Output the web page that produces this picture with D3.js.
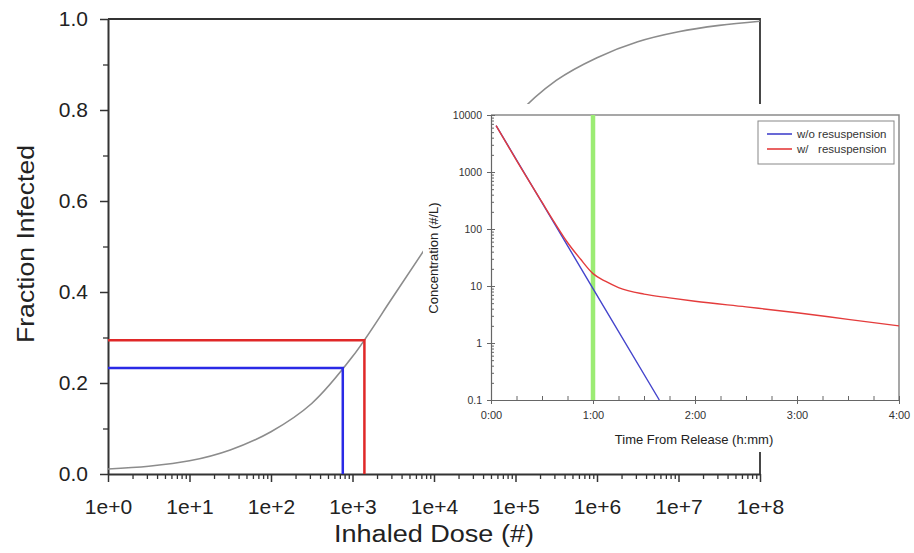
<!DOCTYPE html>
<html>
<head>
<meta charset="utf-8">
<script src="https://cdn.jsdelivr.net/npm/d3@7"></script>
<style>
  body { margin: 0; background: #fff; }
  svg { display: block; font-family: Arial, "Liberation Sans", sans-serif; }
</style>
</head>
<body>
<svg width="914" height="553"></svg>
<script>
// dose-response curve (main chart)
var doses = [1, 3.16, 10, 31.6, 100, 316, 1e3, 3.16e3, 1e4, 3.16e4, 1e5, 3.16e5, 1e6, 3.16e6, 1e7, 3.16e7, 1e8];
var fractions = [0.011, 0.017, 0.029, 0.053, 0.093, 0.155, 0.258, 0.39, 0.525, 0.66, 0.785, 0.865, 0.915, 0.95, 0.972, 0.986, 0.995];

// dose read-offs
var markDoses = [760, 1400];
var markFractions = [0.233, 0.294];
var markColors = ['#2a2ae6', '#e02828'];

var doseTicks = [1, 10, 100, 1e3, 1e4, 1e5, 1e6, 1e7, 1e8];
var doseLabels = ['1e+0', '1e+1', '1e+2', '1e+3', '1e+4', '1e+5', '1e+6', '1e+7', '1e+8'];
var fracTicks = [0, 0.2, 0.4, 0.6, 0.8, 1.0];

// inset: concentration vs time (minutes)
var noResTime = [3, 30, 60, 99];
var noResConc = [6500, 290, 9.0, 0.1];
var resTime = [3, 15, 30, 37.5, 45, 52.5, 60, 67.5, 75, 90, 105, 120, 150, 180, 210, 240];
var resConc = [6500, 1600, 295, 128, 58, 30, 16.5, 12, 9.4, 7.2, 6.2, 5.4, 4.3, 3.4, 2.6, 2.0];
var markTime = 60;
var timeTicks = [0, 60, 120, 180, 240];
var concTicks = [0.1, 1, 10, 100, 1000, 10000];
var concLabels = ['0.1', '1', '10', '100', '1000', '10000'];
var legendNames = ['w/o resuspension', 'w/   resuspension'];
var legendColors = ['#4444cc', '#e43c3c'];

var svg = d3.select('svg');

var xScale = d3.scaleLog().domain([1, 1e8]).range([108, 760]);
var yScale = d3.scaleLinear().domain([0, 1]).range([474, 19]);

// minor ticks
var doseMinor = [];
doseTicks.slice(0, -1).forEach(function(d) {
    for (var k = 2; k < 10; k++) doseMinor.push(d * k);
});
var fracMinor = [0.1, 0.3, 0.5, 0.7, 0.9];

svg.append('g')
    .attr('transform', 'translate(0,474)')
    .call(d3.axisBottom(xScale).tickValues(doseMinor).tickSize(5).tickFormat(''))
    .call(function(g) { g.select('.domain').remove(); g.selectAll('line').attr('stroke', '#333').attr('stroke-width', 1.3); });

var xAxis = svg.append('g')
    .attr('transform', 'translate(0,474)')
    .call(d3.axisBottom(xScale).tickValues(doseTicks).tickSize(8).tickSizeOuter(0).tickPadding(17)
        .tickFormat(function(d, i) { return doseLabels[i]; }));
xAxis.select('.domain').attr('stroke', '#333').attr('stroke-width', 2);
xAxis.selectAll('line').attr('stroke', '#333').attr('stroke-width', 1.5);
xAxis.selectAll('text').attr('font-size', 21).attr('fill', '#222').attr('font-family', 'Arial, "Liberation Sans", sans-serif');

svg.append('g')
    .attr('transform', 'translate(108,0)')
    .call(d3.axisLeft(yScale).tickValues(fracMinor).tickSize(5).tickFormat(''))
    .call(function(g) { g.select('.domain').remove(); g.selectAll('line').attr('stroke', '#333').attr('stroke-width', 1.3); });

var yAxis = svg.append('g')
    .attr('transform', 'translate(108,0)')
    .call(d3.axisLeft(yScale).tickValues(fracTicks).tickSize(8).tickSizeOuter(0).tickPadding(12)
        .tickFormat(d3.format('.1f')));
yAxis.select('.domain').attr('stroke', '#333').attr('stroke-width', 2);
yAxis.selectAll('line').attr('stroke', '#333').attr('stroke-width', 1.5);
yAxis.selectAll('text').attr('font-size', 21).attr('fill', '#222').attr('font-family', 'Arial, "Liberation Sans", sans-serif');

// top and right frame
svg.append('path')
    .attr('d', 'M' + xScale(1) + ',' + yScale(1) + 'H' + xScale(1e8) + 'V' + yScale(0))
    .attr('fill', 'none')
    .attr('stroke', '#333')
    .attr('stroke-width', 1.8);

var curve = d3.line()
    .x(function(d) { return xScale(d[0]); })
    .y(function(d) { return yScale(d[1]); })
    .curve(d3.curveCatmullRom.alpha(0.5));

svg.append('path')
    .datum(d3.zip(doses, fractions))
    .attr('d', curve)
    .attr('fill', 'none')
    .attr('stroke', '#8c8c8c')
    .attr('stroke-width', 1.6);

markDoses.forEach(function(d, i) {
    svg.append('path')
        .datum([[1, markFractions[i]], [d, markFractions[i]], [d, 0]])
        .attr('d', d3.line().x(function(p) { return xScale(p[0]); }).y(function(p) { return yScale(p[1]); }))
        .attr('fill', 'none')
        .attr('stroke', markColors[i])
        .attr('stroke-width', 2.5);
});

svg.append('text')
    .attr('x', 434).attr('y', 542)
    .attr('text-anchor', 'middle')
    .attr('font-size', 23)
    .attr('fill', '#222')
    .attr('textLength', 200)
    .attr('lengthAdjust', 'spacingAndGlyphs')
    .text('Inhaled Dose (#)');

svg.append('text')
    .attr('transform', 'translate(34,244)rotate(-90)')
    .attr('text-anchor', 'middle')
    .attr('font-size', 24)
    .attr('fill', '#222')
    .attr('textLength', 198)
    .attr('lengthAdjust', 'spacingAndGlyphs')
    .text('Fraction Infected');

// ---- inset ----
svg.append('rect')
    .attr('x', 423).attr('y', 104)
    .attr('width', 491).attr('height', 348)
    .attr('fill', '#fff');

var tScale = d3.scaleLinear().domain([0, 240]).range([491, 899]);
var cScale = d3.scaleLog().domain([0.1, 10000]).range([400, 115]);

var timeMinor = d3.range(0, 241, 15).filter(function(t) { return t % 60 != 0; });
var concMinor = [];
concTicks.slice(0, -1).forEach(function(c) {
    for (var k = 2; k < 10; k++) concMinor.push(c * k);
});

// frame top/right
svg.append('path')
    .attr('d', 'M' + tScale(0) + ',' + cScale(10000) + 'H' + tScale(240) + 'V' + cScale(0.1))
    .attr('fill', 'none')
    .attr('stroke', '#8a8a8a')
    .attr('stroke-width', 1.5);

svg.append('g')
    .attr('transform', 'translate(0,400)')
    .call(d3.axisBottom(tScale).tickValues(timeMinor).tickSize(-4).tickFormat(''))
    .call(function(g) { g.select('.domain').remove(); g.selectAll('line').attr('stroke', '#666'); });

var tAxis = svg.append('g')
    .attr('transform', 'translate(0,400)')
    .call(d3.axisBottom(tScale).tickValues(timeTicks).tickSize(4).tickSizeOuter(0).tickPadding(7)
        .tickFormat(function(d) { return Math.floor(d / 60) + ':' + d3.format('02')(d % 60); }));
tAxis.select('.domain').attr('stroke', '#666').attr('stroke-width', 1.2);
tAxis.selectAll('line').attr('stroke', '#666').attr('y1', -4);
tAxis.selectAll('text').attr('font-size', 11).attr('fill', '#333').attr('font-family', 'Arial, "Liberation Sans", sans-serif');

svg.append('g')
    .attr('transform', 'translate(491,0)')
    .call(d3.axisLeft(cScale).tickValues(concMinor).tickSize(-3).tickFormat(''))
    .call(function(g) { g.select('.domain').remove(); g.selectAll('line').attr('stroke', '#666'); });

var cAxis = svg.append('g')
    .attr('transform', 'translate(491,0)')
    .call(d3.axisLeft(cScale).tickValues(concTicks).tickSize(4).tickSizeOuter(0).tickPadding(5)
        .tickFormat(function(d, i) { return concLabels[i]; }));
cAxis.select('.domain').attr('stroke', '#666').attr('stroke-width', 1.2);
cAxis.selectAll('line').attr('stroke', '#666').attr('x1', 4);
cAxis.selectAll('text').attr('font-size', 10.5).attr('fill', '#333').attr('font-family', 'Arial, "Liberation Sans", sans-serif');

svg.append('line')
    .attr('x1', tScale(markTime)).attr('x2', tScale(markTime))
    .attr('y1', cScale(10000)).attr('y2', cScale(0.1))
    .attr('stroke', '#9cec74')
    .attr('stroke-width', 4.5);

var concLine = d3.line()
    .x(function(d) { return tScale(d[0]); })
    .y(function(d) { return cScale(d[1]); });

svg.append('path')
    .datum(d3.zip(noResTime, noResConc))
    .attr('d', concLine)
    .attr('fill', 'none')
    .attr('stroke', legendColors[0])
    .attr('stroke-width', 1.4);

svg.append('path')
    .datum(d3.zip(resTime, resConc))
    .attr('d', concLine.curve(d3.curveMonotoneX))
    .attr('fill', 'none')
    .attr('stroke', legendColors[1])
    .attr('stroke-width', 1.4);

svg.append('text')
    .attr('x', 694).attr('y', 444)
    .attr('text-anchor', 'middle')
    .attr('font-size', 13)
    .attr('fill', '#222')
    .text('Time From Release (h:mm)');

svg.append('text')
    .attr('transform', 'translate(438,258)rotate(-90)')
    .attr('text-anchor', 'middle')
    .attr('font-size', 13)
    .attr('fill', '#222')
    .text('Concentration (#/L)');

// legend
var legend = svg.append('g').attr('transform', 'translate(758,121)');
legend.append('rect')
    .attr('width', 136).attr('height', 43)
    .attr('fill', '#fff')
    .attr('stroke', '#888');
legendNames.forEach(function(name, i) {
    legend.append('line')
        .attr('x1', 9).attr('x2', 34)
        .attr('y1', 13 + i * 15).attr('y2', 13 + i * 15)
        .attr('stroke', legendColors[i])
        .attr('stroke-width', 1.6);
    legend.append('text')
        .attr('x', 39).attr('y', 17 + i * 15)
        .attr('font-size', 11.5)
        .attr('fill', '#333')
        .attr('xml:space', 'preserve')
        .style('white-space', 'pre')
        .text(name);
});
</script>
</body>
</html>
